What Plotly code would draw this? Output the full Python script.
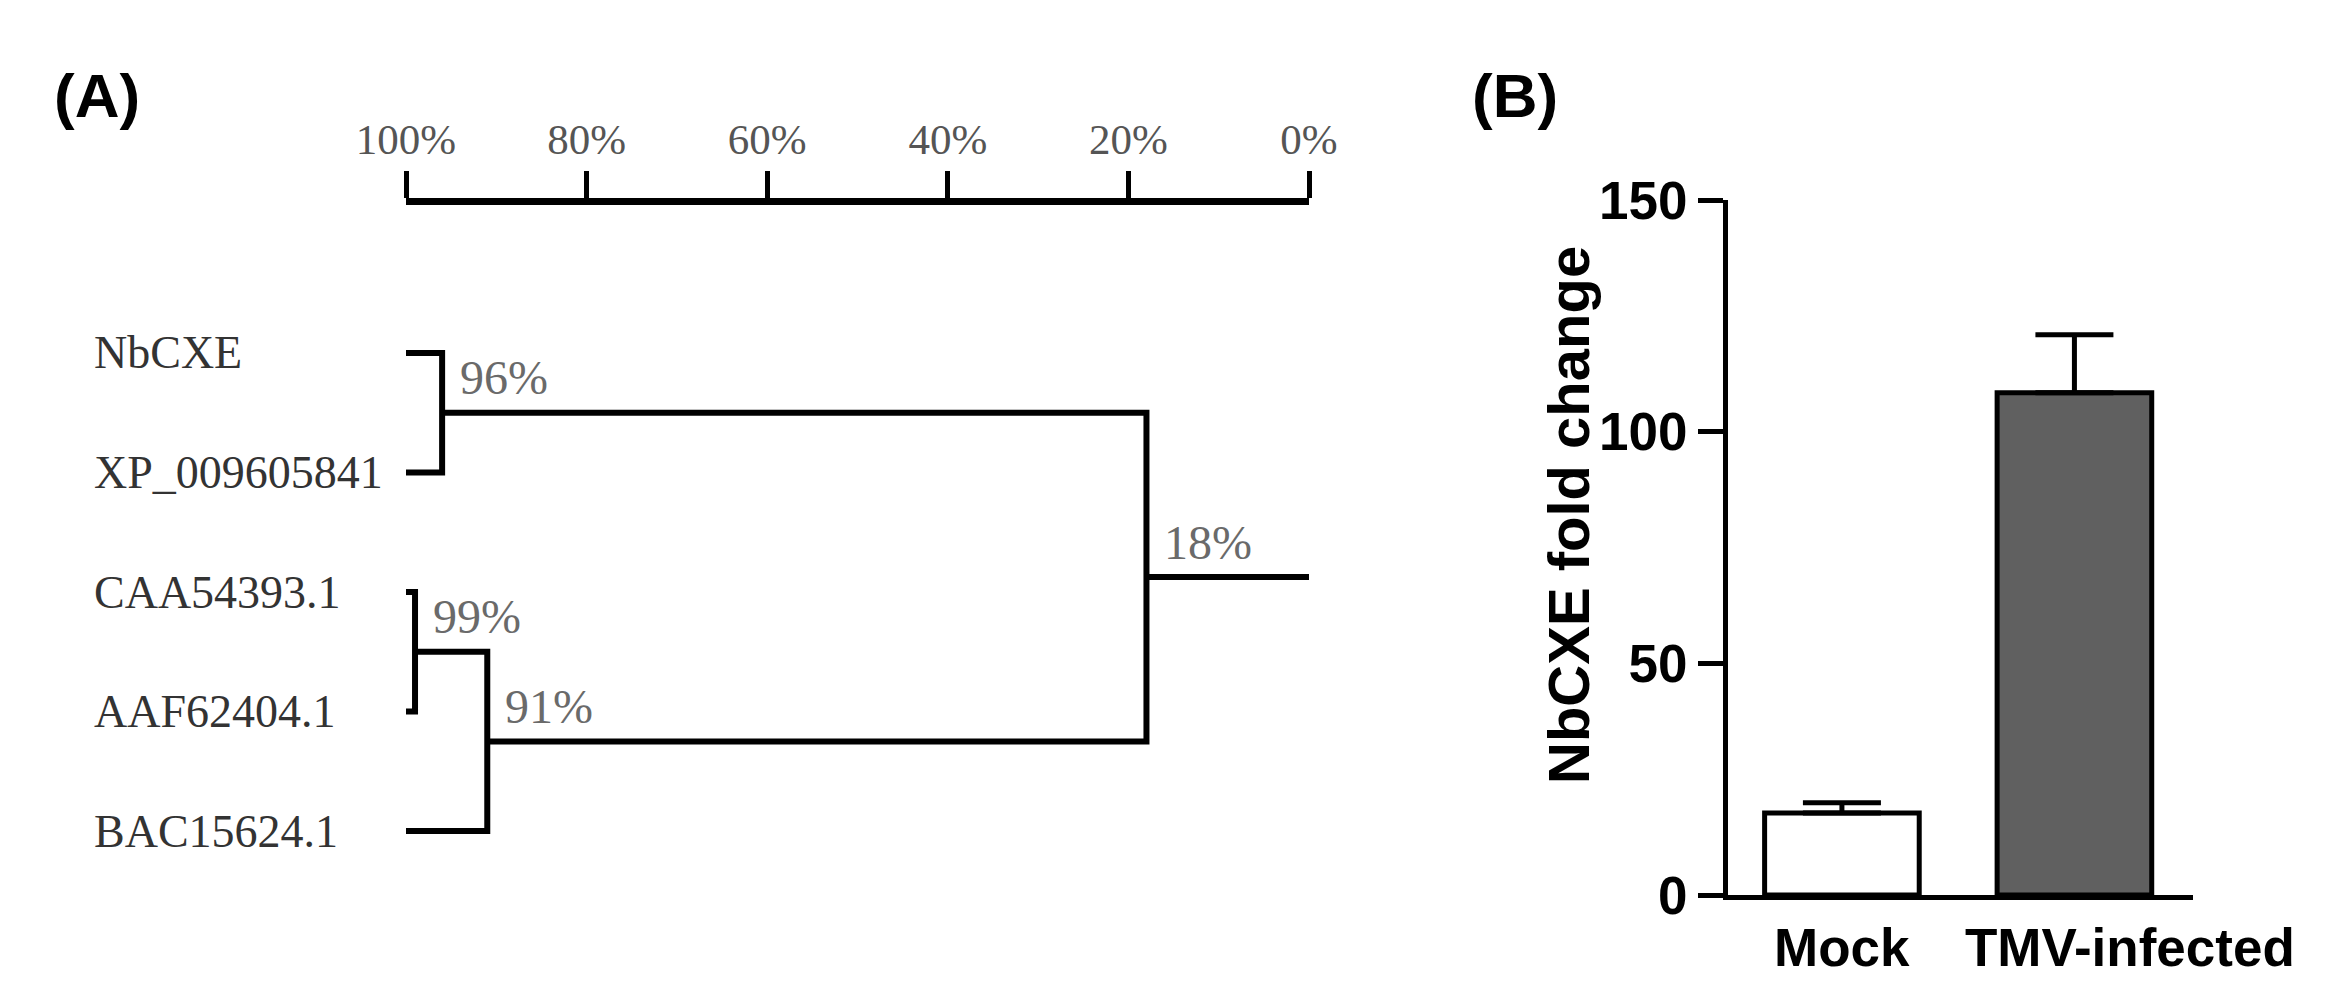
import plotly.graph_objects as go

# ---- (A) 相似度樹狀圖 ----
LEAVES = ["NbCXE", "XP_009605841", "CAA54393.1", "AAF62404.1", "BAC15624.1"]
NODE_IDS = ["n96", "n99", "n91", "root"]
NODE_CHILDREN = [
    ("NbCXE", "XP_009605841"),
    ("CAA54393.1", "AAF62404.1"),
    ("n99", "BAC15624.1"),
    ("n96", "n91"),
]
NODE_SIMILARITY = [96, 99, 91, 18]
SCALE_TICKS = [100, 80, 60, 40, 20, 0]

# ---- (B) qRT-PCR ----
GROUPS = ["Mock", "TMV-infected"]
FOLD_CHANGE = [17.7, 108.4]
FOLD_ERR = [2.2, 12.5]
BAR_FILL = ["#ffffff", "#606060"]
Y_TICKS = [0, 50, 100, 150]

W, H = 2340, 1007
SERIF = "Liberation Serif, Times New Roman, serif"
SANS = "Liberation Sans, Arial, sans-serif"


def px_x(p):
    return p / W


def px_y(p):
    return 1 - p / H


def dendro_paths():
    pos = {leaf: (SCALE_TICKS[0], i) for i, leaf in enumerate(LEAVES)}
    xs, ys = [], []
    for node, (a, b), h in zip(NODE_IDS, NODE_CHILDREN, NODE_SIMILARITY):
        (xa, ya), (xb, yb) = pos[a], pos[b]
        xs += [xa, h, h, xb, None]
        ys += [ya, ya, yb, yb, None]
        pos[node] = (h, (ya + yb) / 2)
    rx, ry = pos[NODE_IDS[-1]]
    xs += [rx, SCALE_TICKS[-1]]
    ys += [ry, ry]
    return xs, ys, pos


fig = go.Figure()

xs, ys, pos = dendro_paths()
fig.add_trace(go.Scatter(
    x=xs, y=ys, mode="lines", xaxis="x", yaxis="y",
    line=dict(color="black", width=6), cliponaxis=False,
    hoverinfo="skip", showlegend=False,
))

annotations = []
for i, leaf in enumerate(LEAVES):
    annotations.append(dict(
        text=leaf, xref="paper", yref="y", x=px_x(92), y=i,
        xanchor="left", yanchor="middle", showarrow=False,
        font=dict(family=SERIF, size=46, color="#333333"),
    ))
for node, h in zip(NODE_IDS, NODE_SIMILARITY):
    nx, ny = pos[node]
    annotations.append(dict(
        text=f"{h}%", xref="x", yref="y", x=nx, y=ny,
        xanchor="left", yanchor="middle", xshift=16, yshift=35,
        showarrow=False, font=dict(family=SERIF, size=48, color="#6a6a6a"),
    ))

# ---- (B) bars ----
fig.add_trace(go.Bar(
    x=GROUPS, y=FOLD_CHANGE, xaxis="x2", yaxis="y2", width=0.665,
    marker=dict(color=BAR_FILL, line=dict(color="black", width=5)),
    error_y=dict(type="data", array=FOLD_ERR, arrayminus=[0] * len(FOLD_ERR),
                 symmetric=False, color="black", thickness=5, width=39),
    showlegend=False, hoverinfo="skip",
))
for g, shift in zip(GROUPS, [0, 56]):
    annotations.append(dict(
        text=g, xref="x2", yref="paper", x=g, y=px_y(947), xshift=shift,
        xanchor="center", yanchor="middle", showarrow=False,
        font=dict(family=SANS, size=53, color="black", weight="bold"),
    ))
annotations.append(dict(
    text="NbCXE fold change", xref="paper", yref="paper",
    x=px_x(1568), y=px_y(515), textangle=-90,
    xanchor="center", yanchor="middle", showarrow=False,
    font=dict(family=SANS, size=58, color="black", weight="bold"),
))
for lab, left in [("(A)", 52), ("(B)", 1470)]:
    annotations.append(dict(
        text=lab, xref="paper", yref="paper", x=px_x(left), y=px_y(96),
        xanchor="left", yanchor="middle", showarrow=False,
        font=dict(family=SANS, size=62, color="black", weight="bold"),
    ))

fig.update_layout(
    width=W, height=H, margin=dict(l=0, r=0, t=0, b=0, autoexpand=False),
    paper_bgcolor="white", plot_bgcolor="white",
    annotations=annotations,
    xaxis=dict(
        domain=[px_x(406), px_x(1309)], range=[SCALE_TICKS[0], SCALE_TICKS[-1]],
        side="top", anchor="y", showline=True, linecolor="black", linewidth=7,
        ticks="outside", ticklen=27, tickwidth=5, tickcolor="black",
        tickvals=SCALE_TICKS, ticktext=[f"{t}%" for t in SCALE_TICKS],
        tickfont=dict(family=SERIF, size=43, color="#555555"),
        showgrid=False, zeroline=False, automargin=False,
    ),
    yaxis=dict(
        domain=[px_y(900), px_y(205)], range=[4.577, -1.238],
        visible=False, showgrid=False, zeroline=False, automargin=False,
    ),
    xaxis2=dict(
        domain=[px_x(1728), px_x(2193)], range=[-0.49, 1.51], anchor="y2",
        showline=True, linecolor="black", linewidth=5, ticks="",
        showticklabels=False, showgrid=False, zeroline=False, automargin=False,
    ),
    yaxis2=dict(
        domain=[px_y(895), px_y(200)], range=[0, 150], anchor="x2",
        showline=True, linecolor="black", linewidth=5,
        ticks="outside", ticklen=25, tickwidth=5, tickcolor="black",
        tickvals=Y_TICKS,
        tickfont=dict(family=SANS, size=53, color="black", weight="bold"),
        showgrid=False, zeroline=False, automargin=False,
    ),
)

fig.write_html("out.html", config={"displayModeBar": False},
               post_script="document.body.style.margin='0';")
